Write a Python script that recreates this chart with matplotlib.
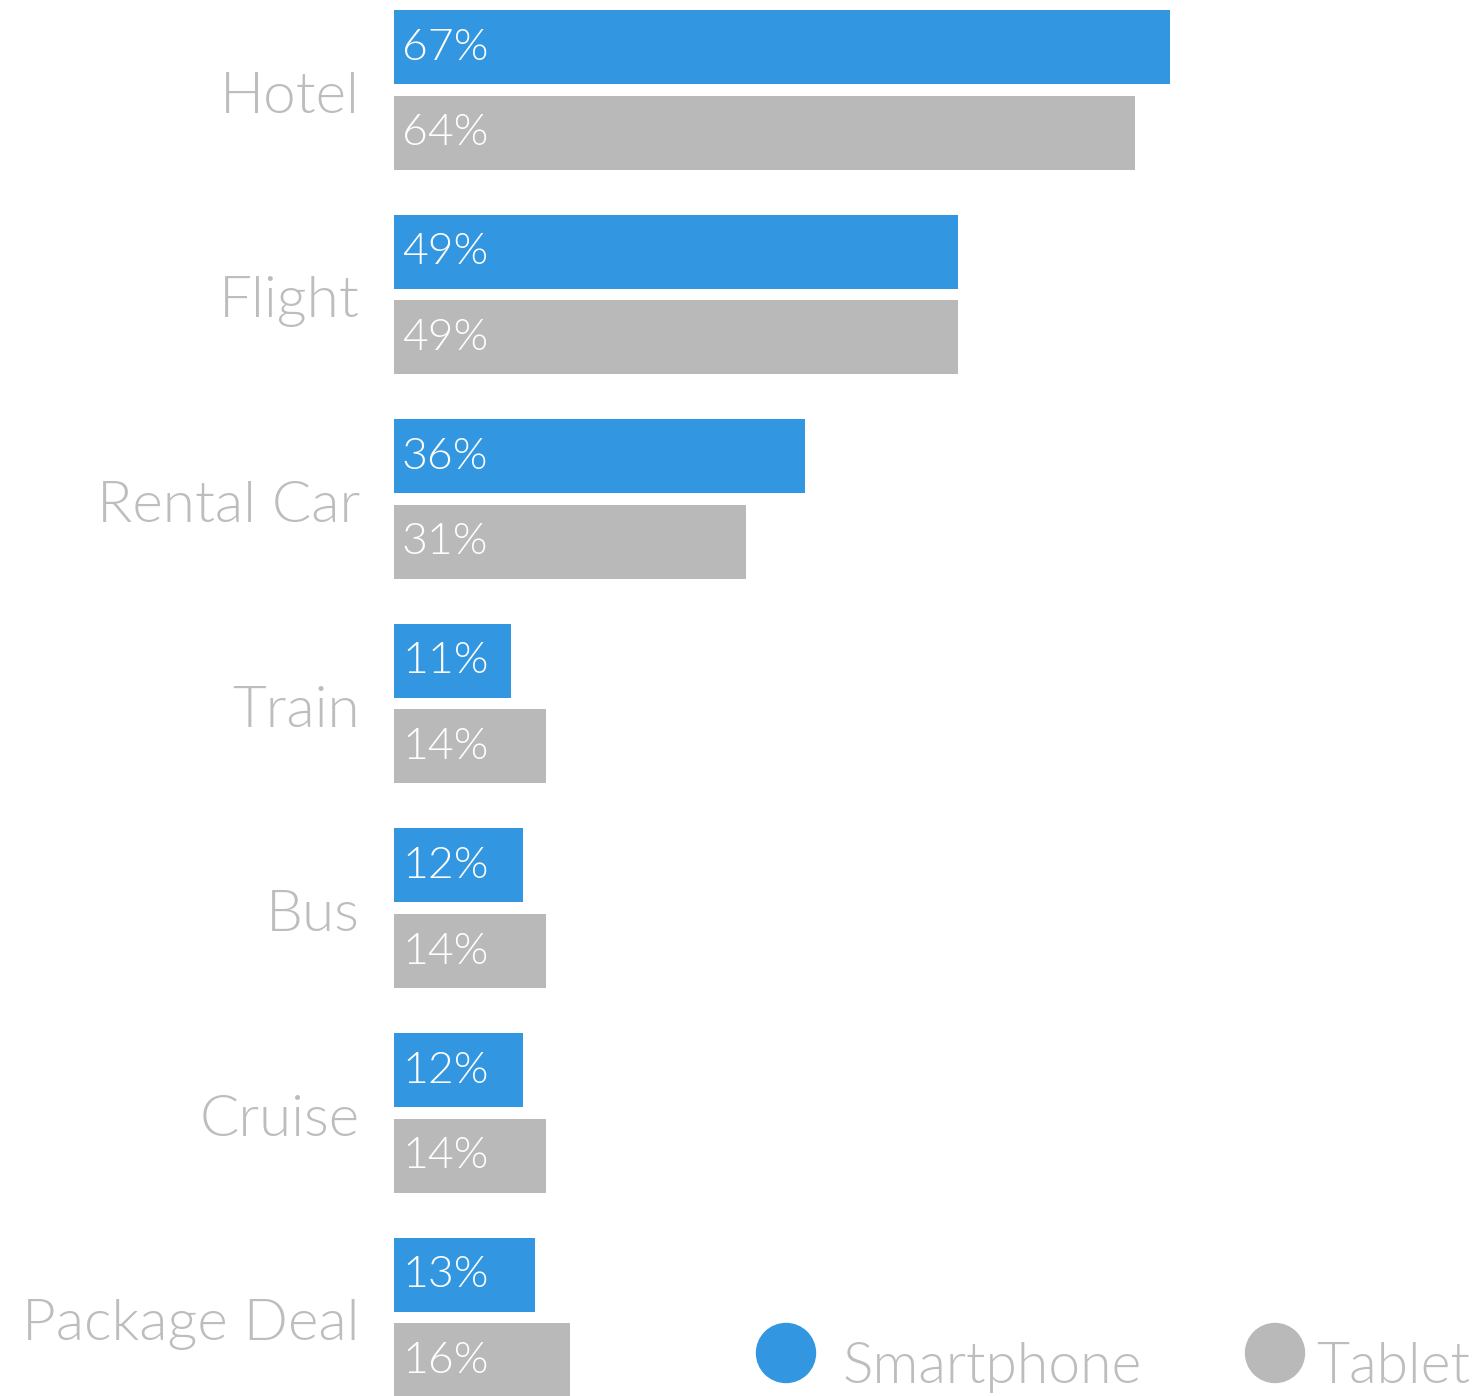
import matplotlib
matplotlib.use("Agg")
import matplotlib.pyplot as plt
from matplotlib.patches import Circle
from matplotlib.transforms import blended_transform_factory

# share of travellers booking each category, by device
categories = ["Hotel", "Flight", "Rental Car", "Train", "Bus", "Cruise", "Package Deal"]
smartphone = [67, 49, 36, 11, 12, 12, 13]
tablet = [64, 49, 31, 14, 14, 14, 16]
series_names = ["Smartphone", "Tablet"]

BLUE = "#3297e0"
GREY = "#b9b9b9"
LABEL = "#bdbdbd"

plt.rcParams["font.family"] = ["Lato", "DejaVu Sans"]
WT = 300

W, H = 1473, 1396
fig = plt.figure(figsize=(W / 100, H / 100), dpi=100)
ax = fig.add_axes([394 / W, 0, (W - 394) / W, 1])

pitch = 204.6
off = 42.75 / pitch
bh = 74 / pitch
ypos = list(range(len(categories)))

ax.barh([y - off for y in ypos], smartphone, height=bh, color=BLUE)
ax.barh([y + off for y in ypos], tablet, height=bh, color=GREY)

px_per_unit = 11.77
x0 = 1.06
ax.set_xlim(x0, x0 + (W - 394) / px_per_unit)
ax.set_ylim(6 + (H - 1317.5) / pitch, -89.75 / pitch)
ax.axis("off")

tr = blended_transform_factory(ax.transAxes, ax.transData)
lab_dx = 8 / (W - 394)
for y, s, t in zip(ypos, smartphone, tablet):
    ax.text(lab_dx, y - off + 12.5 / pitch, f"{s}%", transform=tr, color="white",
            fontsize=32, fontweight=WT, va="baseline", ha="left")
    ax.text(lab_dx, y + off + 12.5 / pitch, f"{t}%", transform=tr, color="white",
            fontsize=32, fontweight=WT, va="baseline", ha="left")

for y, name in zip(ypos, categories):
    ax.text(-34 / (W - 394), y + 23 / pitch, name, transform=tr, color=LABEL,
            fontsize=42, fontweight=WT, va="baseline", ha="right")

# legend drawn in pixel space on an overlay
lg = fig.add_axes([0, 0, 1, 1])
lg.set_xlim(0, W)
lg.set_ylim(H, 0)
lg.axis("off")
lg.patch.set_alpha(0)
for cx, tx, name, col in [(786, 842, series_names[0], BLUE), (1275, 1316, series_names[1], GREY)]:
    lg.add_patch(Circle((cx, 1353), 29.5, color=col))
    lg.text(tx, 1383, name, color=LABEL, fontsize=41, fontweight=WT,
            va="baseline", ha="left")

fig.savefig("out.png", dpi=100)
